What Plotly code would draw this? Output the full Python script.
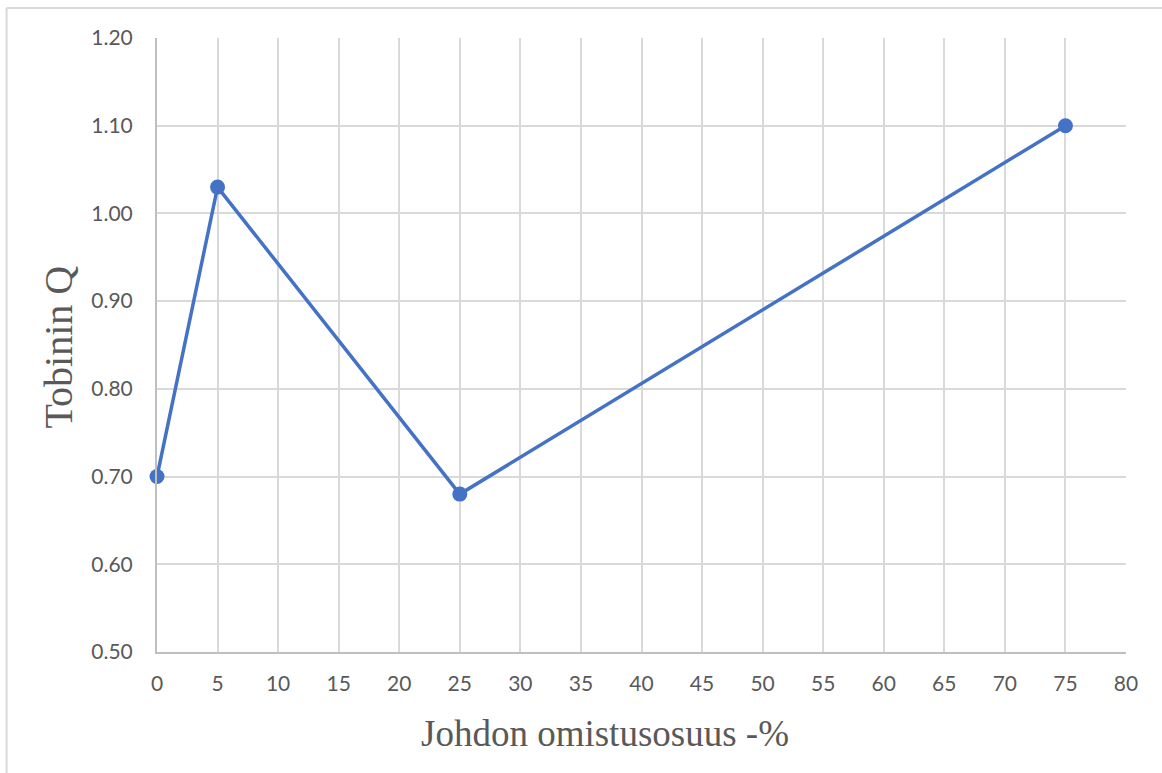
import plotly.graph_objects as go

# Management ownership share (%) vs. Tobin's Q
ownership_pct = [0, 5, 25, 75]
tobins_q = [0.70, 1.03, 0.68, 1.10]

x_ticks = list(range(0, 81, 5))
y_ticks = [0.50, 0.60, 0.70, 0.80, 0.90, 1.00, 1.10, 1.20]

line_color = "#4472C4"
grid_color = "#d9d9d9"
axis_color = "#bfbfbf"
text_color = "#595959"
tick_font = dict(family="Lato, 'Open Sans', sans-serif", size=21, color=text_color)
x_title_font = dict(family="'Liberation Serif', 'Times New Roman', serif", size=37, color=text_color)
y_title_font = dict(family="'Liberation Serif', 'Times New Roman', serif", size=40, color=text_color)

fig = go.Figure()
fig.add_trace(go.Scatter(
    x=ownership_pct,
    y=tobins_q,
    mode="lines+markers",
    line=dict(color=line_color, width=3.5),
    marker=dict(color=line_color, size=15),
    cliponaxis=False,
    showlegend=False,
))

# plot area: x 156.5..1126 px, y 38..652 px in a 1162x773 page
L, R, T, B = 156.5, 36, 38, 121
W, H = 1162, 773
pw, ph = W - L - R, H - T - B

def px_to_paper_x(px):
    return (px - L) / pw

def px_to_paper_y(py):
    return (H - B - py) / ph

fig.update_layout(
    width=W,
    height=H,
    margin=dict(l=L, r=R, t=T, b=B, pad=0),
    paper_bgcolor="white",
    plot_bgcolor="white",
    xaxis=dict(
        range=[0, 80],
        tickvals=x_ticks,
        ticktext=[str(v) for v in x_ticks],
        showgrid=True,
        gridcolor=grid_color,
        gridwidth=1.5,
        zeroline=False,
        showline=True,
        linecolor=axis_color,
        linewidth=2,
        ticks="",
        tickfont=tick_font,
        ticklabelstandoff=12,
    ),
    yaxis=dict(
        range=[0.5, 1.2],
        tickvals=y_ticks,
        ticktext=[f"{v:.2f}" for v in y_ticks],
        showgrid=True,
        gridcolor=grid_color,
        gridwidth=1.5,
        zeroline=False,
        showline=True,
        linecolor=axis_color,
        linewidth=2,
        ticks="",
        tickfont=tick_font,
        ticklabelstandoff=18,
    ),
    annotations=[
        dict(
            text="Johdon omistusosuus -%",
            xref="paper", yref="paper",
            x=px_to_paper_x(605), y=px_to_paper_y(733),
            xanchor="center", yanchor="middle",
            showarrow=False, font=x_title_font,
        ),
        dict(
            text="Tobinin Q",
            xref="paper", yref="paper",
            x=px_to_paper_x(57), y=px_to_paper_y(347),
            xanchor="center", yanchor="middle",
            textangle=-90,
            showarrow=False, font=y_title_font,
        ),
    ],
    shapes=[
        # chart frame (top and left edges)
        dict(type="line", xref="paper", yref="paper",
             x0=px_to_paper_x(6), x1=px_to_paper_x(1170),
             y0=px_to_paper_y(8), y1=px_to_paper_y(8),
             line=dict(color=grid_color, width=2)),
        dict(type="line", xref="paper", yref="paper",
             x0=px_to_paper_x(6), x1=px_to_paper_x(6),
             y0=px_to_paper_y(8), y1=px_to_paper_y(780),
             line=dict(color=grid_color, width=2)),
    ],
)

fig.write_html("out.html")
